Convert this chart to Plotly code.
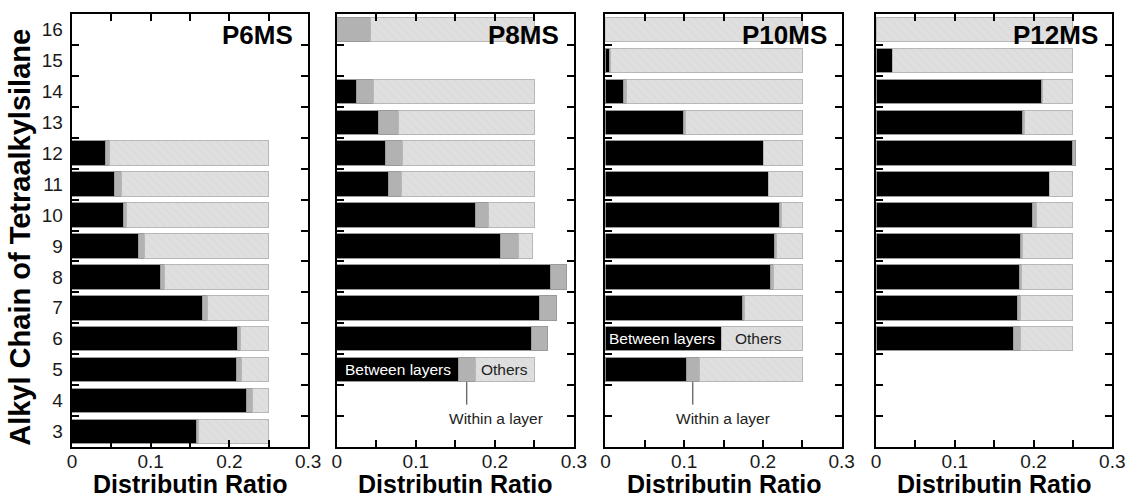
import plotly.graph_objects as go
from plotly.subplots import make_subplots

# Alkyl chain length of the tetraalkylsilane (y categories)
chain = [3, 4, 5, 6, 7, 8, 9, 10, 11, 12, 13, 14, 15, 16]
panel_names = ["P6MS", "P8MS", "P10MS", "P12MS"]

# Distribution ratio per chain length: between layers / within a layer / others
p6_between = [0.158, 0.222, 0.209, 0.210, 0.166, 0.113, 0.085, 0.066, 0.054, 0.043, None, None, None, None]
p6_within = [0.003, 0.007, 0.006, 0.004, 0.006, 0.004, 0.007, 0.003, 0.009, 0.005, None, None, None, None]
p6_others = [0.089, 0.021, 0.035, 0.036, 0.078, 0.133, 0.158, 0.181, 0.187, 0.202, None, None, None, None]

p8_between = [None, None, 0.154, 0.246, 0.257, 0.270, 0.207, 0.176, 0.065, 0.062, 0.053, 0.025, None, None]
p8_within = [None, None, 0.021, 0.021, 0.021, 0.020, 0.023, 0.016, 0.017, 0.021, 0.025, 0.022, None, 0.043]
p8_others = [None, None, 0.075, None, None, None, 0.018, 0.058, 0.168, 0.167, 0.172, 0.203, None, 0.207]

p10_between = [None, None, 0.103, 0.147, 0.174, 0.210, 0.215, 0.221, 0.207, 0.201, 0.099, 0.023, 0.005, None]
p10_within = [None, None, 0.016, None, 0.002, 0.004, 0.002, 0.003, None, None, 0.003, 0.004, 0.002, None]
p10_others = [None, None, 0.131, 0.103, 0.074, 0.036, 0.033, 0.026, 0.043, 0.049, 0.148, 0.223, 0.243, 0.250]

p12_between = [None, None, None, 0.175, 0.180, 0.182, 0.183, 0.199, 0.220, 0.249, 0.186, 0.210, 0.021, None]
p12_within = [None, None, None, 0.009, 0.003, 0.003, 0.003, 0.005, None, 0.004, 0.002, 0.001, None, None]
p12_others = [None, None, None, 0.066, 0.067, 0.065, 0.064, 0.046, 0.030, None, 0.062, 0.039, 0.229, 0.250]

x_tick_vals = [0, 0.05, 0.1, 0.15, 0.2, 0.25, 0.3]
x_tick_text = ["0", "", "0.1", "", "0.2", "", "0.3"]

series = [
    (p6_between, p6_within, p6_others),
    (p8_between, p8_within, p8_others),
    (p10_between, p10_within, p10_others),
    (p12_between, p12_within, p12_others),
]

FONT = "Liberation Sans, Arial, sans-serif"
EDGE = "#9a9a9a"
BAR_W = 0.79

fig = make_subplots(rows=1, cols=4)

for i, (between, within, others) in enumerate(series):
    col = i + 1
    fig.add_trace(go.Bar(
        y=chain, x=between, orientation="h", width=BAR_W, name="Between layers",
        marker=dict(color="#000000", line=dict(color=EDGE, width=1)),
        showlegend=False, hoverinfo="x+y"), row=1, col=col)
    fig.add_trace(go.Bar(
        y=chain, x=within, orientation="h", width=BAR_W, name="Within a layer",
        marker=dict(color="#b2b2b2", line=dict(color=EDGE, width=1)),
        showlegend=False, hoverinfo="x+y"), row=1, col=col)
    fig.add_trace(go.Bar(
        y=chain, x=others, orientation="h", width=BAR_W, name="Others",
        marker=dict(color="#dfdfdf", line=dict(color="#b8b8b8", width=1),
                    pattern=dict(shape="\\", fgcolor="#cdcdcd", size=6, solidity=0.15)),
        showlegend=False, hoverinfo="x+y"), row=1, col=col)

# empty trace that carries the chain-length label axis of the first panel
fig.add_trace(go.Scatter(x=[], y=[], xaxis="x", yaxis="y5", mode="markers",
                         showlegend=False, hoverinfo="skip"))

W, H = 1145, 500
x_domains = [(68, 308), (337, 578), (610, 850), (885, 1125)]
y_domain = [1 - 447 / H, 1 - 14 / H]
y_range = [2.5, 16.5]

for i, (a, b) in enumerate(x_domains):
    col = i + 1
    fig.update_xaxes(
        domain=[a / W, b / W], range=[0, 0.3],
        tickmode="array", tickvals=x_tick_vals, ticktext=x_tick_text,
        ticks="inside", ticklen=7, tickwidth=2, tickcolor="#000",
        showline=True, linewidth=2, linecolor="#000", mirror="ticks",
        showgrid=False, zeroline=False, ticklabelstandoff=-4,
        tickfont=dict(family=FONT, size=19, color="#1a1a1a"),
        row=1, col=col)
    # ticks sit between the chain-length rows
    fig.update_yaxes(
        domain=y_domain, range=y_range,
        tickmode="array", tickvals=[c + 0.5 for c in chain[:-1]],
        ticks="inside", ticklen=7, tickwidth=2, tickcolor="#000",
        showticklabels=False,
        showline=True, linewidth=2, linecolor="#000", mirror="ticks",
        showgrid=False, zeroline=False,
        row=1, col=col)

# chain-length labels on the first panel, centred on each row
fig.update_layout(yaxis5=dict(
    overlaying="y", anchor="x", side="left", domain=y_domain, range=y_range,
    tickmode="array", tickvals=chain, ticktext=[str(c) for c in chain],
    ticks="", showline=False, showgrid=False, zeroline=False,
    ticklabelstandoff=8,
    tickfont=dict(family=FONT, size=19, color="#1a1a1a")))

annotations = []
# panel names and x-axis titles
for i, (a, b) in enumerate(x_domains):
    annotations.append(dict(
        text="<b>%s</b>" % panel_names[i], xref="paper", yref="paper",
        x=(b - 13) / W, y=1 - 35 / H, xanchor="right", yanchor="middle",
        showarrow=False, font=dict(family=FONT, size=26, color="#000")))
    annotations.append(dict(
        text="<b>Distributin Ratio</b>", xref="paper", yref="paper",
        x=(a + b) / 2 / W, y=0, xanchor="center", yanchor="bottom",
        showarrow=False, font=dict(family=FONT, size=25, color="#000")))

annotations.append(dict(
    text="<b>Alkyl Chain of Tetraalkylsilane</b>", xref="paper", yref="paper",
    x=15 / W, y=1 - 237 / H, xanchor="center", yanchor="middle", textangle=-90,
    showarrow=False, font=dict(family=FONT, size=29, color="#000")))

# in-bar labels for the three parts
label_font = dict(family=FONT, size=15.5)
annotations += [
    dict(text="Between layers", xref="x2", yref="y2", x=0.078, y=5, showarrow=False,
         font=dict(color="#ffffff", **label_font)),
    dict(text="Others", xref="x2", yref="y2", x=0.2125, y=5, showarrow=False,
         font=dict(color="#222222", **label_font)),
    dict(text="Within a layer", xref="x2", yref="y2", x=0.202, y=3.42, showarrow=False,
         font=dict(color="#222222", **label_font)),
    dict(text="Between layers", xref="x3", yref="y3", x=0.072, y=6, showarrow=False,
         font=dict(color="#ffffff", **label_font)),
    dict(text="Others", xref="x3", yref="y3", x=0.194, y=6, showarrow=False,
         font=dict(color="#222222", **label_font)),
    dict(text="Within a layer", xref="x3", yref="y3", x=0.149, y=3.42, showarrow=False,
         font=dict(color="#222222", **label_font)),
]

# leader lines from the "within a layer" segment to its label
shapes = []
for ax, b, w in (("2", p8_between, p8_within), ("3", p10_between, p10_within)):
    k = chain.index(5)
    xm = b[k] + w[k] / 2
    shapes.append(dict(type="line", xref="x" + ax, yref="y" + ax,
                       x0=xm, x1=xm, y0=5 - BAR_W / 2, y1=3.87,
                       line=dict(color="#333333", width=1)))

fig.update_layout(
    width=W, height=H, margin=dict(l=0, r=0, t=0, b=0),
    barmode="stack", bargap=0.2,
    paper_bgcolor="#ffffff", plot_bgcolor="#ffffff",
    annotations=annotations, shapes=shapes,
    font=dict(family=FONT),
)

fig.write_html("out.html")
